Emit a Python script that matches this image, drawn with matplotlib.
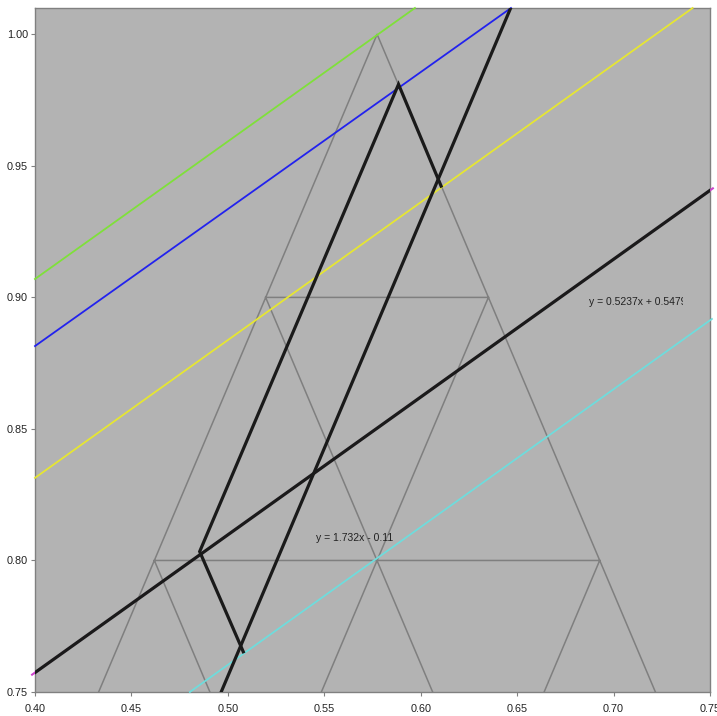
import numpy as np
import matplotlib.pyplot as plt
from matplotlib.transforms import Bbox, TransformedBbox

plt.rcParams["font.family"] = ["Liberation Sans", "DejaVu Sans"]

# gray triangle grid, segments separated by NaN
tri_x = [0.4330, 0.5774, 0.7217, np.nan,
         0.5196, 0.6351, np.nan,
         0.5196, 0.6062, np.nan,
         0.6351, 0.5485, np.nan,
         0.4619, 0.6928, np.nan,
         0.4619, 0.4907, np.nan,
         0.6928, 0.6640]
tri_y = [0.75, 1.00, 0.75, np.nan,
         0.90, 0.90, np.nan,
         0.90, 0.75, np.nan,
         0.90, 0.75, np.nan,
         0.80, 0.80, np.nan,
         0.80, 0.75, np.nan,
         0.80, 0.75]

# parallel lines
green_x = [0.400, 0.597]
green_y = [0.907, 1.010]
blue_x = [0.400, 0.6468]
blue_y = [0.8815, 1.010]
yellow_x = [0.400, 0.741]
yellow_y = [0.8314, 1.010]
cyan_x = [0.4803, 0.751]
cyan_y = [0.750, 0.8918]

# trendlines
trend1_slope, trend1_icpt = 0.5237, 0.5479
trend2_slope, trend2_icpt = 1.732, -0.11

# zigzag path
zig_x = [0.5080, 0.4854, 0.5885, 0.6106]
zig_y = [0.7653, 0.8034, 0.9810, 0.9423]

bg = "#b3b3b3"
fig = plt.figure(figsize=(7.17, 7.16), dpi=100)
ax = fig.add_axes([0.0488, 0.0335, 0.9414, 0.9553])
ax.set_facecolor(bg)

ax.plot(tri_x, tri_y, color="#7f7f7f", lw=1.1, zorder=2)

ax.plot(green_x, green_y, color="#7fe03a", lw=1.3, clip_on=False, zorder=3)
ax.plot(blue_x, blue_y, color="#2222ee", lw=1.3, clip_on=False, zorder=3)
ax.plot(yellow_x, yellow_y, color="#e6e632", lw=1.3, clip_on=False, zorder=3)
ax.plot(cyan_x, cyan_y, color="#6fdcdc", lw=1.3, clip_on=False, zorder=3)

# trendline 1 with its data series peeking out at the ends
t1x = np.array([0.3985, 0.7515])
ax.plot(t1x, trend1_slope * t1x + trend1_icpt, color="#cc44cc", lw=1.5,
        clip_on=False, zorder=3)
t1x = np.array([0.40, 0.75])
ax.plot(t1x, trend1_slope * t1x + trend1_icpt, color="#1a1a1a", lw=2.3,
        zorder=4)

# trendline 2 across the whole plot
t2x = np.array([0.40, 0.75])
ax.plot(t2x, trend2_slope * t2x + trend2_icpt, color="#1a1a1a", lw=2.3,
        zorder=4)

ax.plot(zig_x, zig_y, color="#1a1a1a", lw=2.3, zorder=4,
        solid_joinstyle="miter")

# equation labels; the first one sits in a box that cuts off its last digit
lbl1 = ax.text(0.6874, 0.8984,
               "y = %.4fx + %.4f" % (trend1_slope, trend1_icpt),
               fontsize=7.5, color="#222222", va="center", ha="left",
               zorder=5)
lbl1.set_clip_box(TransformedBbox(Bbox([[0.68, 0.88], [0.7362, 0.92]]),
                                  ax.transData))
lbl1.set_clip_on(True)
ax.text(0.5455, 0.8086, "y = %.3fx - %.2f" % (trend2_slope, -trend2_icpt),
        fontsize=7.5, color="#222222", va="center", ha="left", zorder=5)

ax.set_xlim(0.40, 0.75)
ax.set_ylim(0.75, 1.01)
ax.set_xticks(np.arange(0.40, 0.751, 0.05))
ax.set_yticks(np.arange(0.75, 1.001, 0.05))
ax.set_xticklabels(["%.2f" % v for v in np.arange(0.40, 0.751, 0.05)])
ax.set_yticklabels(["%.2f" % v for v in np.arange(0.75, 1.001, 0.05)])
ax.tick_params(axis="both", direction="out", length=3, width=0.8,
               color="#808080", labelsize=7.8, labelcolor="#222222")
ax.tick_params(axis="y", pad=2)
ax.tick_params(axis="x", pad=5.5)

for s in ax.spines.values():
    s.set_color("#808080")
    s.set_linewidth(1.0)

fig.savefig("out.png", dpi=100, facecolor="white")
